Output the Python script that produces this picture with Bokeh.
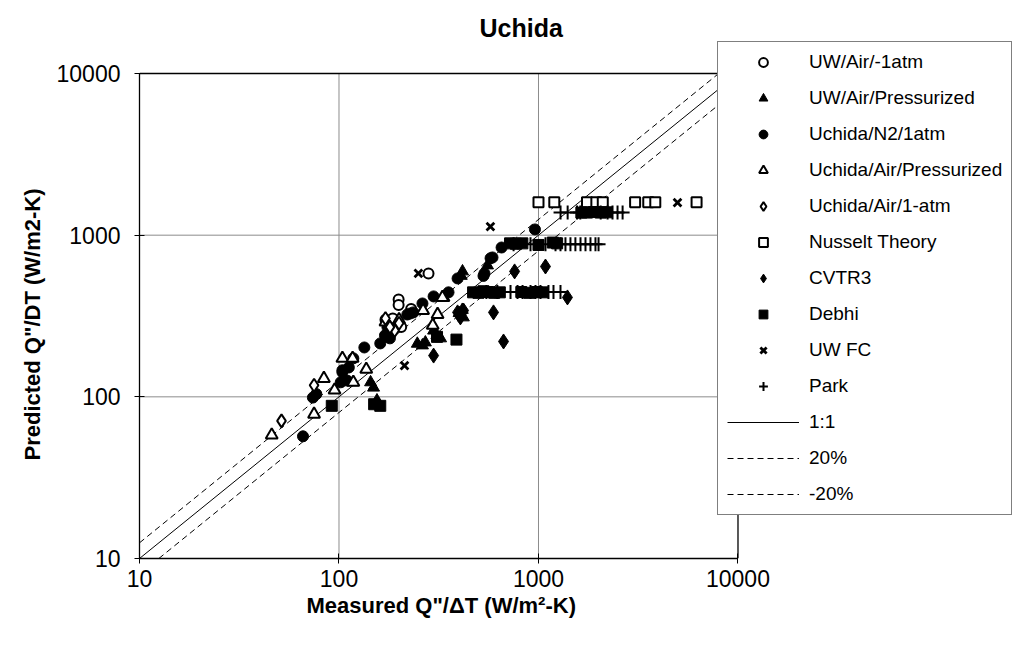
from bokeh.plotting import figure
from bokeh.models import Range1d, FixedTicker, PrintfTickFormatter, Legend, LegendItem, Title
from bokeh.embed import file_html
from bokeh.resources import INLINE

# ---- data ----
uw_air_1atm_x = [199, 199, 281, 171, 178, 186, 205, 230]
uw_air_1atm_y = [400, 370, 580, 300, 285, 305, 270, 350]

uw_air_press_x = [555, 416, 410, 298, 310, 323, 247, 262, 271, 144, 149, 118, 155, 400, 415, 420]
uw_air_press_y = [650, 597, 560, 257, 240, 230, 213, 208, 217, 123, 114, 123, 95, 330, 345, 310]

uchida_n2_x = [960, 653, 588, 575, 536, 530, 393, 354, 298, 262, 220, 236, 228, 161, 170,
               175, 185, 180, 134, 104, 112, 118, 102, 104, 110, 74, 77, 66]
uchida_n2_y = [1085, 839, 728, 720, 580, 560, 540, 443, 418, 378, 323, 333, 328, 214, 240,
               269, 255, 230, 202, 142, 152, 173, 123, 146, 126, 99, 104, 57]

uchida_air_press_x = [46, 75, 84, 95, 104, 117, 118, 334, 312, 295, 200, 171, 137, 264, 330]
uchida_air_press_y = [58, 78, 130, 110, 173, 173, 123, 412, 323, 277, 300, 290, 148, 342, 412]

uchida_air_1atm_x = [51.5, 75, 171, 190, 180, 200]
uchida_air_1atm_y = [71, 118, 305, 257, 270, 285]

nusselt_x = [1000, 1200, 1750, 1950, 2100, 3050, 3550, 3850, 6200]
nusselt_y = [1600, 1600, 1600, 1600, 1600, 1600, 1600, 1600, 1600]

cvtr3_x = [759, 595, 668, 1084, 1397, 298, 393, 406, 421]
cvtr3_y = [597, 333, 220, 640, 412, 180, 333, 310, 342]

debhi_x = [470, 500, 530, 560, 600, 640, 820, 900, 980, 1050,
           720, 770, 830, 1000, 1180, 1240,
           1640, 1750, 1900, 2050, 2200,
           388, 161, 150, 92, 310]
debhi_y = [443, 440, 450, 445, 440, 443, 445, 440, 445, 443,
           890, 885, 890, 870, 900, 890,
           1380, 1380, 1390, 1380, 1385,
           226, 88, 90, 88, 235]

uw_fc_x = [574, 4975, 213, 250]
uw_fc_y = [1131, 1592, 156, 580]

park_x = [1290, 1400, 1560, 1620, 2050, 2220, 2350, 2490, 2640,
          750, 912, 1084, 1217, 1289, 1365, 1446, 1531, 1624, 1720, 1822, 1930, 2000,
          548, 622, 724, 785, 832, 912, 966, 1023, 1122, 1189, 1289]
park_y = [1380] * 9 + [880] * 13 + [445] * 11

one_to_one_factor = 1.0
plus20_factor = 1.25
minus20_factor = 0.8

series_labels = ["UW/Air/-1atm", "UW/Air/Pressurized", "Uchida/N2/1atm",
                 "Uchida/Air/Pressurized", "Uchida/Air/1-atm", "Nusselt Theory",
                 "CVTR3", "Debhi", "UW FC", "Park", "1:1", "20%", "-20%"]
axis_ticks = [10, 100, 1000, 10000]
AX_MIN, AX_MAX = 10, 10000

FONT = "Liberation Sans"

# The frame is widened to the right / upward so the legend (which overlaps the
# plot border in the reference) is not clipped; the plot area itself is 10..10000.
X_END = 10 ** 5.376
Y_END = 10 ** 4.229

p = figure(width=1014, height=645, x_axis_type="log", y_axis_type="log",
           x_range=Range1d(AX_MIN, X_END), y_range=Range1d(AX_MIN, Y_END),
           output_backend="svg", toolbar_location=None,
           min_border_left=139, min_border_right=2, min_border_top=36, min_border_bottom=87)

p.background_fill_color = "white"
p.border_fill_color = "white"
p.outline_line_color = None
p.xgrid.visible = False
p.ygrid.visible = False

# title
p.title.text = "Uchida"
p.title.align = "left"
p.title.offset = 340
p.title.standoff = -11
p.title.text_font = FONT
p.title.text_font_size = "25px"
p.title.text_font_style = "bold"
p.title.text_color = "black"

for ax in (p.xaxis[0], p.yaxis[0]):
    ax.ticker = FixedTicker(ticks=axis_ticks)
    ax.bounds = (AX_MIN, AX_MAX)
    ax.formatter = PrintfTickFormatter(format="%d")
    ax.major_label_text_font = FONT
    ax.major_label_text_font_size = "23px"
    ax.major_label_text_color = "black"
    ax.axis_line_color = "black"
    ax.axis_line_width = 1.3
    ax.major_tick_line_color = "black"
    ax.major_tick_in = 5
    ax.major_tick_out = 5
    ax.minor_tick_line_color = None

p.xaxis.major_label_standoff = 6
p.yaxis.major_label_standoff = 14

# axis titles (placed as side titles so they centre on the 10..10000 plot area)
x_title = Title(text="Measured Q\"/\u0394T (W/m\u00b2-K)", align="left", offset=167, standoff=2,
                text_font=FONT, text_font_size="22px", text_font_style="bold", text_color="black")
p.add_layout(x_title, "below")
y_title = Title(text="Predicted Q\"/DT (W/m2-K)", align="left", offset=98, standoff=18,
                text_font=FONT, text_font_size="22px", text_font_style="bold", text_color="black")
p.add_layout(y_title, "left")

# gridlines (inner decades grey) and plot-area border (top / right, black)
inner = [t for t in axis_ticks if AX_MIN < t < AX_MAX]
p.multi_line([[t, t] for t in inner] + [[AX_MIN, AX_MAX] for t in inner],
             [[AX_MIN, AX_MAX] for t in inner] + [[t, t] for t in inner],
             line_color="#8c8c8c", line_width=1)
p.multi_line([[AX_MIN, AX_MAX], [AX_MAX, AX_MAX]],
             [[AX_MAX, AX_MAX], [AX_MIN, AX_MAX]],
             line_color="black", line_width=1.3)


def ref_line(f):
    x0 = max(AX_MIN, AX_MIN / f)
    x1 = min(AX_MAX, AX_MAX / f)
    return [x0, x1], [x0 * f, x1 * f]


# reference lines
lx, ly = ref_line(one_to_one_factor)
r_11 = p.line(lx, ly, line_color="black", line_width=1)
lx, ly = ref_line(plus20_factor)
r_p20 = p.line(lx, ly, line_color="black", line_width=1, line_dash="6 4")
lx, ly = ref_line(minus20_factor)
r_m20 = p.line(lx, ly, line_color="black", line_width=1, line_dash="6 4")

# scatter series
r_uw1 = p.scatter(uw_air_1atm_x, uw_air_1atm_y, marker="circle", size=10,
                  fill_color="white", line_color="black", line_width=2)
r_uwp = p.scatter(uw_air_press_x, uw_air_press_y, marker="triangle", size=12,
                  fill_color="black", line_color="black")
r_n2 = p.scatter(uchida_n2_x, uchida_n2_y, marker="circle", size=11,
                 fill_color="black", line_color="black")
r_uap = p.scatter(uchida_air_press_x, uchida_air_press_y, marker="triangle", size=12,
                  fill_color="white", line_color="black", line_width=2)
r_ua1 = p.scatter(uchida_air_1atm_x, uchida_air_1atm_y, marker="diamond", size=13,
                  fill_color="white", line_color="black", line_width=2)
r_nus = p.scatter(nusselt_x, nusselt_y, marker="square", size=10,
                  fill_color="white", line_color="black", line_width=2)
r_cv = p.scatter(cvtr3_x, cvtr3_y, marker="diamond", size=15,
                 fill_color="black", line_color="black")
r_deb = p.scatter(debhi_x, debhi_y, marker="square", size=11,
                  fill_color="black", line_color="black")
r_fc = p.scatter(uw_fc_x, uw_fc_y, marker="x", size=11,
                 line_color="black", line_width=2.8)
r_park = p.scatter(park_x, park_y, marker="cross", size=14,
                   line_color="black", line_width=2)

renderers = [r_uw1, r_uwp, r_n2, r_uap, r_ua1, r_nus, r_cv, r_deb, r_fc, r_park, r_11, r_p20, r_m20]
items = [LegendItem(label=lab, renderers=[r]) for lab, r in zip(series_labels, renderers)]

legend = Legend(items=items, location=(578, 43), orientation="vertical",
                label_text_font=FONT, label_text_font_size="19px", label_text_color="black",
                glyph_width=72, glyph_height=22, label_height=22, spacing=14,
                padding=9, margin=0, label_standoff=10,
                border_line_color="black", border_line_width=1,
                background_fill_color="white", background_fill_alpha=1.0)
p.add_layout(legend)

open("out.html", "w").write(file_html(p, INLINE))
